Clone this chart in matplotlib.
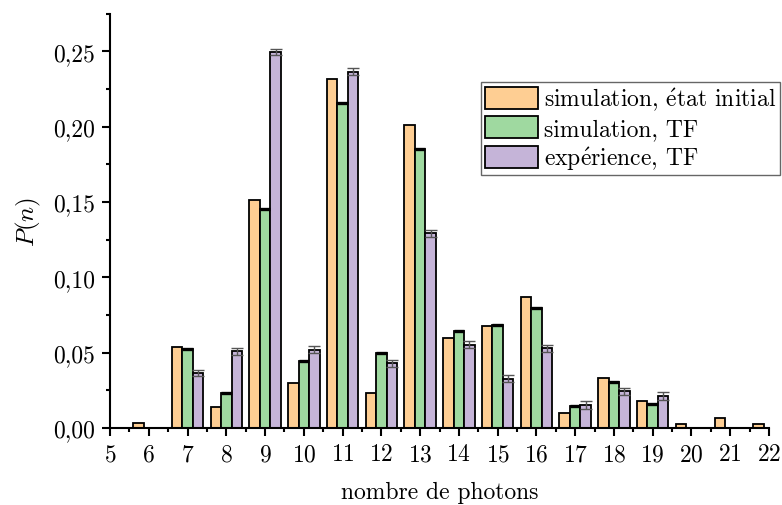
import matplotlib
matplotlib.use("Agg")
import matplotlib.pyplot as plt
from matplotlib.ticker import MultipleLocator, FuncFormatter
import numpy as np

# photon number distribution
n = [6, 7, 8, 9, 10, 11, 12, 13, 14, 15, 16, 17, 18, 19, 20, 21, 22]
sim_initial = [0.003, 0.054, 0.0137, 0.1515, 0.0297, 0.2314, 0.023, 0.2009, 0.060,
               0.0677, 0.0871, 0.0097, 0.033, 0.0179, 0.0025, 0.0064, 0.0029]
sim_tf = [0.0, 0.0526, 0.0234, 0.1455, 0.0445, 0.216, 0.050, 0.1853, 0.0643,
          0.0685, 0.0798, 0.0148, 0.0307, 0.0161, 0.0, 0.0, 0.0]
exp_tf = [0.0, 0.0365, 0.0509, 0.2495, 0.052, 0.2364, 0.0429, 0.1292, 0.0553,
          0.0327, 0.0529, 0.0153, 0.0244, 0.0214, 0.0, 0.0, 0.0]
exp_err = [0.0, 0.0022, 0.0022, 0.0022, 0.0022, 0.0022, 0.0022, 0.0022, 0.0022,
           0.0022, 0.0022, 0.0025, 0.0022, 0.0027, 0.0, 0.0, 0.0]

labels = [r'simulation, $\acute{\mathrm{e}}$tat initial',
          'simulation, TF',
          r'exp$\acute{\mathrm{e}}$rience, TF']
colors = ['#FECE93', '#9FD9A0', '#C5B4D8']

plt.rcParams['font.family'] = 'serif'
plt.rcParams['font.serif'] = ['cmr10']
plt.rcParams['mathtext.fontset'] = 'cm'
plt.rcParams['axes.formatter.use_mathtext'] = True
plt.rcParams['font.size'] = 17

fig = plt.figure(figsize=(7.82, 5.06), dpi=100)
ax = fig.add_axes([0.1407, 0.1522, 0.8427, 0.8189])

w = 0.27
n = np.array(n)


def nonzero(x, vals):
    vals = np.array(vals)
    keep = vals > 0
    return x[keep], vals[keep], keep


x0, v0, _ = nonzero(n - w, sim_initial)
ax.bar(x0, v0, w, color=colors[0], edgecolor='black', linewidth=1.3, label=labels[0], zorder=2)

x1, v1, _ = nonzero(n, sim_tf)
ax.bar(x1, v1, w, color=colors[1], edgecolor='black', linewidth=1.3, label=labels[1], zorder=2)
# thick dark top on the TF simulation bars
ax.hlines(v1, x1 - w / 2, x1 + w / 2, color='black', linewidth=2.4, zorder=3)

x2, v2, keep = nonzero(n + w, exp_tf)
ax.bar(x2, v2, w, color=colors[2], edgecolor='black', linewidth=1.3, label=labels[2], zorder=2)
ax.errorbar(x2, v2, yerr=np.array(exp_err)[keep], fmt='none', ecolor='#555555',
            elinewidth=1.0, capsize=4, capthick=1.0, zorder=4)

ax.set_xlim(5, 22)
ax.set_ylim(0, 0.275)
ax.xaxis.set_major_locator(MultipleLocator(1))
ax.xaxis.set_minor_locator(MultipleLocator(0.5))
ax.yaxis.set_major_locator(MultipleLocator(0.05))
ax.yaxis.set_minor_locator(MultipleLocator(0.025))
ax.yaxis.set_major_formatter(FuncFormatter(lambda v, p: '{:.2f}'.format(v).replace('.', ',')))

for side in ['top', 'right']:
    ax.spines[side].set_visible(False)
for side in ['left', 'bottom']:
    ax.spines[side].set_linewidth(1.5)
ax.tick_params(which='major', direction='out', length=6, width=1.5, labelsize=17, pad=5)
ax.tick_params(which='minor', direction='out', length=3, width=1.5)

ax.set_xlabel('nombre de photons', fontsize=17, labelpad=11)
ax.set_ylabel(r'$P(n)$', fontsize=18, labelpad=7)

leg = ax.legend(loc='upper right', bbox_to_anchor=(779.5 / 782, 1 - 83.3 / 506),
                bbox_transform=fig.transFigure, borderaxespad=0, fancybox=False,
                framealpha=1, edgecolor='#666666', handlelength=2.25, handleheight=1.05,
                handletextpad=0.25, labelspacing=0.15, borderpad=0.15, fontsize=17)
leg.get_frame().set_linewidth(1.0)

fig.savefig('out.png', dpi=100)
